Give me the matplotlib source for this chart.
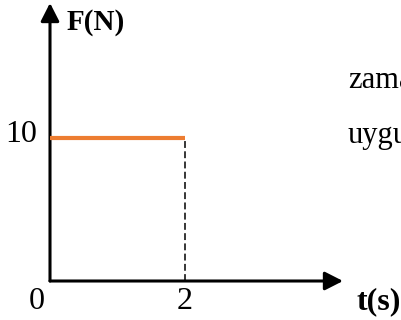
import matplotlib
matplotlib.use("Agg")
import matplotlib.pyplot as plt

# Force F (N) held constant over time t (s)
t_values = [0, 2]
force_values = [10, 10]
x_ticks = [0, 2]
x_tick_labels = ["0", "2"]
y_ticks = [10]
y_tick_labels = ["10"]
side_text = ["zama", "uygu"]

W, H = 402, 320
fig = plt.figure(figsize=(W / 100, H / 100), dpi=100)
ax = fig.add_axes([0, 0, 1, 1])
ax.set_axis_off()

# scale: origin at (50, 281) px, 67.5 px per second, 14.35 px per newton
x0_px, y0_px = 50, 281
sx, sy = 67.5, 14.35
ax.set_xlim(-x0_px / sx, (W - x0_px) / sx)
ax.set_ylim((y0_px - H) / sy, y0_px / sy)

serif = "Liberation Serif"
arrow = dict(arrowstyle="-|>,head_length=0.55,head_width=0.28",
             lw=2.2, color="black", mutation_scale=20, shrinkA=0, shrinkB=0)

# axes with arrow heads
ax.annotate("", xy=(0, (y0_px - 3) / sy), xytext=(0, 0), arrowprops=arrow)
ax.annotate("", xy=((343 - x0_px) / sx, 0), xytext=(0, 0), arrowprops=arrow)

# force line and dashed drop to the time axis
ax.plot(t_values, force_values, color="#ED7D31", lw=3.0, solid_capstyle="butt", zorder=3)
ax.plot([t_values[-1], t_values[-1]], [0, force_values[-1]], color="black", lw=1.1,
        dashes=(4.5, 2.2), zorder=2)

# tick labels
for xv, lab in zip(x_ticks, x_tick_labels):
    ax.text(xv - (0.19 if xv == 0 else 0), -6.0 / sy, lab, ha="center", va="top",
            fontsize=23, family=serif)
for yv, lab in zip(y_ticks, y_tick_labels):
    ax.text(-13 / sx, yv + 3.0 / sy, lab, ha="right", va="center", fontsize=23, family=serif)

# axis titles
ax.text(17 / sx, (y0_px - 22) / sy, "F(N)", ha="left", va="center", fontsize=21,
        fontweight="bold", family=serif)
ax.text((357 - x0_px) / sx, (y0_px - 302) / sy, "t(s)", ha="left", va="center", fontsize=23,
        fontweight="bold", family=serif)

# surrounding text lines
for yb, s in zip([88, 143], side_text):
    ax.text((348 - x0_px) / sx, (y0_px - yb) / sy, s, ha="left", va="baseline",
            fontsize=22, family=serif)

fig.savefig("out.png", dpi=100)
